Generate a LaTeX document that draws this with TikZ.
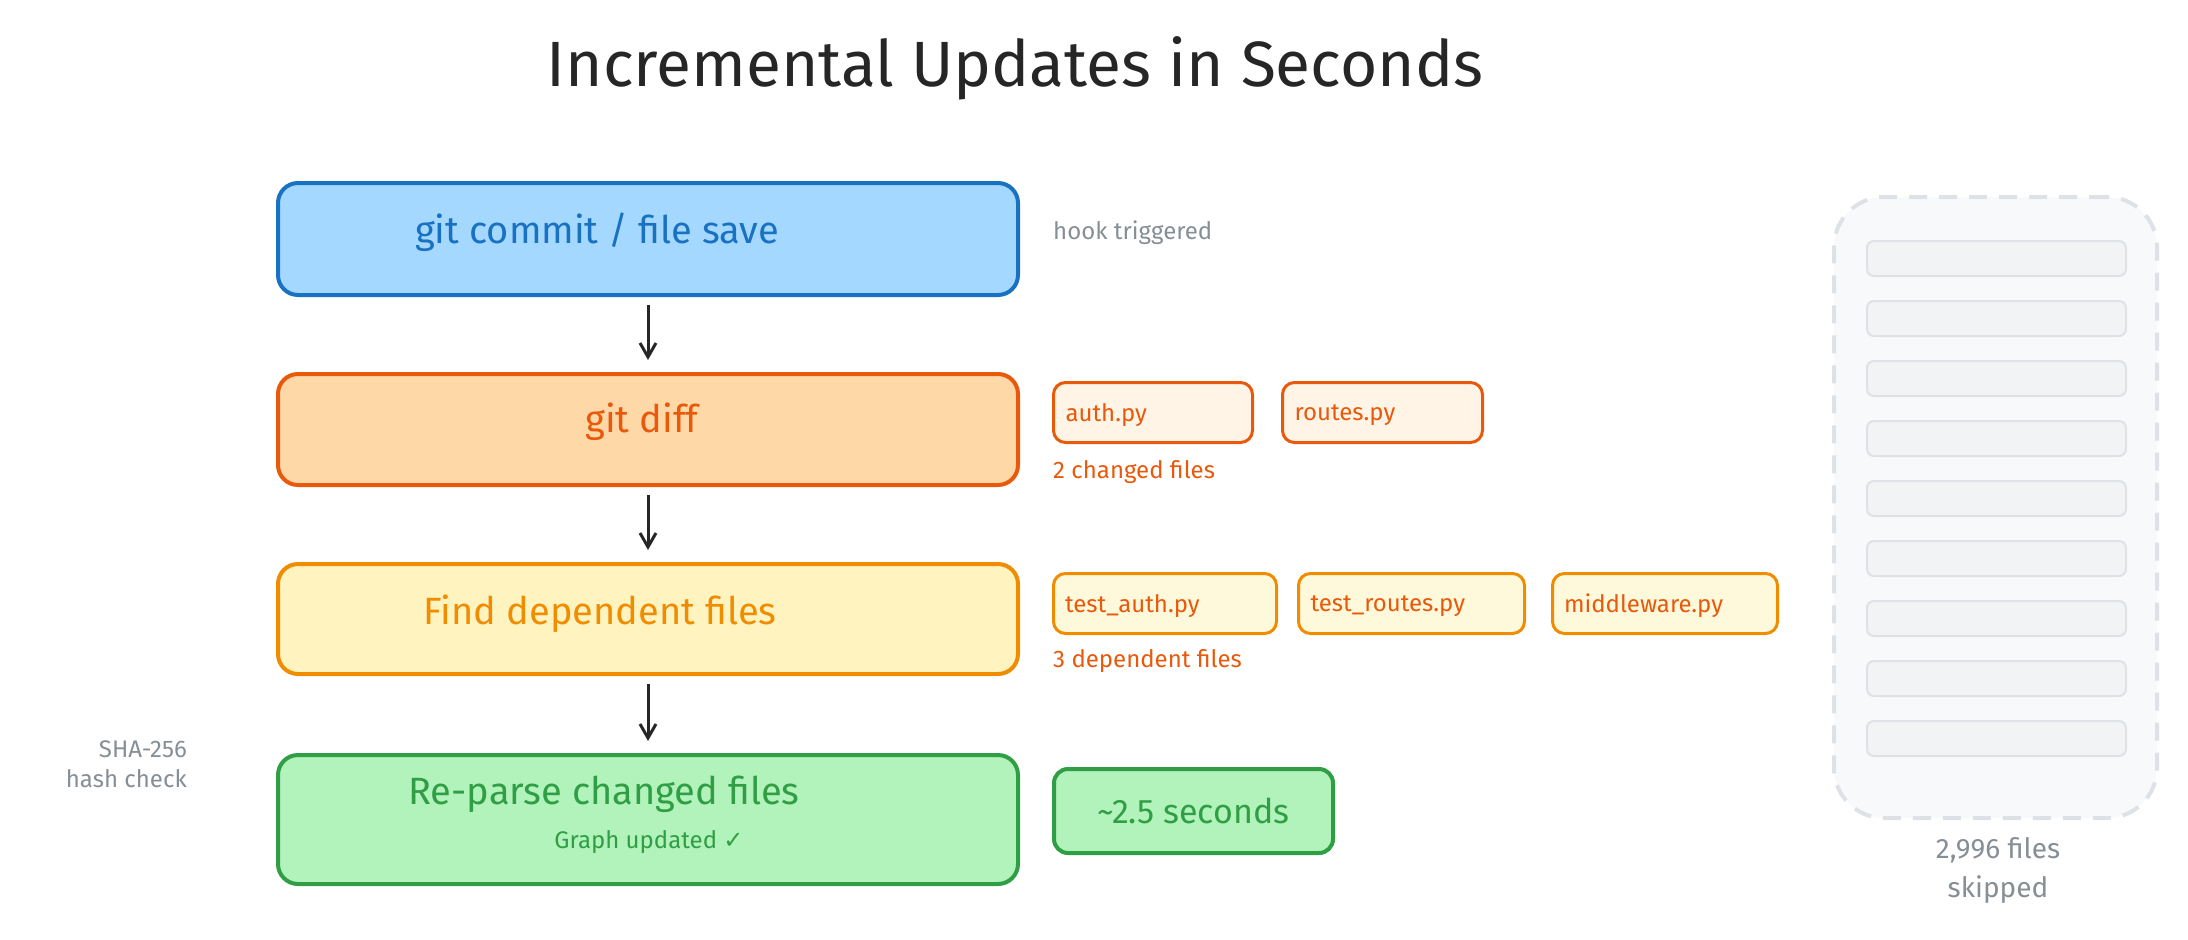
\documentclass[tikz,border=0pt]{standalone}
\usepackage{fontspec}
\setmainfont{Fira Sans}
\newfontfamily\sym{DejaVu Sans}
\usetikzlibrary{arrows.meta}
\definecolor{bS}{HTML}{1971C2}\definecolor{bF}{HTML}{A5D8FF}
\definecolor{oS}{HTML}{E8590C}\definecolor{oF}{HTML}{FFD8A8}\definecolor{oL}{HTML}{FFF4E6}
\definecolor{yS}{HTML}{F08C00}\definecolor{yF}{HTML}{FFF3BF}\definecolor{yL}{HTML}{FFF9DB}
\definecolor{gS}{HTML}{2F9E44}\definecolor{gF}{HTML}{B2F2BB}
\definecolor{gT}{HTML}{868E96}\definecolor{pF}{HTML}{F8F9FA}\definecolor{pS}{HTML}{DEE2E6}\definecolor{barF}{HTML}{F1F3F5}
\newcommand{\fs}[1]{\fontsize{#1}{#1}\selectfont}
\begin{document}
\begin{tikzpicture}[x=1pt,y=-1pt,
  main/.style={draw,line width=4pt,rounded corners=20pt,minimum width=740pt,anchor=north west,inner sep=0pt},
  small/.style={draw,line width=3pt,rounded corners=12pt,anchor=north west,inner sep=0pt,minimum height=60pt,font=\fs{24},text depth=0pt},
  lbl/.style={anchor=west,font=\fs{24},inner sep=0pt},
  arr/.style={-{Straight Barb[length=14pt,width=16pt]},line width=3pt,draw=black!85}]
\useasboundingbox (0,0) rectangle (2188,940);
\node[font=\fs{64},text=black!85] (title) at (1015,68) {Incremental Updates in Seconds};
% main boxes
\node[main,draw=bS,fill=bF,minimum height=112pt] (b1) at (276,181) {};
\node[font=\fs{38},text=bS] (t1) at (597,232) {git commit / file save};
\node[main,draw=oS,fill=oF,minimum height=111pt] (b2) at (276,372) {};
\node[font=\fs{38},text=oS] (t2) at (642,422) {git diff};
\node[main,draw=yS,fill=yF,minimum height=110pt] (b3) at (276,562) {};
\node[font=\fs{38},text=yS] (t3) at (600,614) {Find dependent files};
\node[main,draw=gS,fill=gF,minimum height=129pt] (b4) at (276,753) {};
\node[font=\fs{38},text=gS] (t4) at (604,794) {Re-parse changed files};
\node[font=\fs{24},text=gS] (t4b) at (649,842) {Graph updated {\sym ✓}};
\draw[arr] ([yshift=-8pt]b1.south) -- ([yshift=12pt]b2.north);
\draw[arr] ([yshift=-8pt]b2.south) -- ([yshift=12pt]b3.north);
\draw[arr] ([yshift=-8pt]b3.south) -- ([yshift=12pt]b4.north);
% side labels
\node[lbl,text=gT] (hook) at (1053,233) {hook triggered};
\node[small,draw=oS,fill=oL,text=oS,minimum width=199pt,text width=175pt] (f1) at (1052,381) {auth.py};
\node[small,draw=oS,fill=oL,text=oS,minimum width=200pt,text width=176pt] (f2) at (1281,381) {routes.py};
\node[lbl,text=oS] (l2) at (1053,472) {2 changed files};
\node[small,draw=yS,fill=yL,text=oS,minimum width=223pt,text width=200pt] (d1) at (1052,572) {test\_auth.py};
\node[small,draw=yS,fill=yL,text=oS,minimum width=226pt,text width=202pt] (d2) at (1297,572) {test\_routes.py};
\node[small,draw=yS,fill=yL,text=oS,minimum width=225pt,text width=202pt] (d3) at (1551,572) {middleware.py};
\node[lbl,text=oS] (l3) at (1053,661) {3 dependent files};
\node[draw=gS,fill=gF,line width=4pt,rounded corners=14pt,anchor=north west,minimum width=279pt,minimum height=84pt,inner sep=0pt,font=\fs{34},text=gS] (sec) at (1052,767) {\textasciitilde2.5 seconds};
\node[anchor=east,font=\fs{24},text=gT,align=right,inner sep=0pt] (sha1) at (187,749) {SHA-256};
\node[anchor=east,font=\fs{24},text=gT,align=right,inner sep=0pt] (sha2) at (187,779) {hash check};
% panel
\node[draw=pS,fill=pF,line width=4pt,dash pattern=on 18pt off 12pt,rounded corners=50pt,anchor=north west,minimum width=323pt,minimum height=621pt,inner sep=0pt] (panel) at (1832,195) {};
\foreach \i in {0,...,8}{
  \node[draw=pS,fill=barF,line width=2pt,rounded corners=7pt,anchor=north west,minimum width=259pt,minimum height=35pt,inner sep=0pt] (bar\i) at (1866,240+60*\i) {};
}
\node[font=\fs{28},text=gT,inner sep=0pt] (skip1) at (1998,850) {2,996 files};
\node[font=\fs{28},text=gT,inner sep=0pt] (skip2) at (1998,890) {skipped};
\end{tikzpicture}
\end{document}
